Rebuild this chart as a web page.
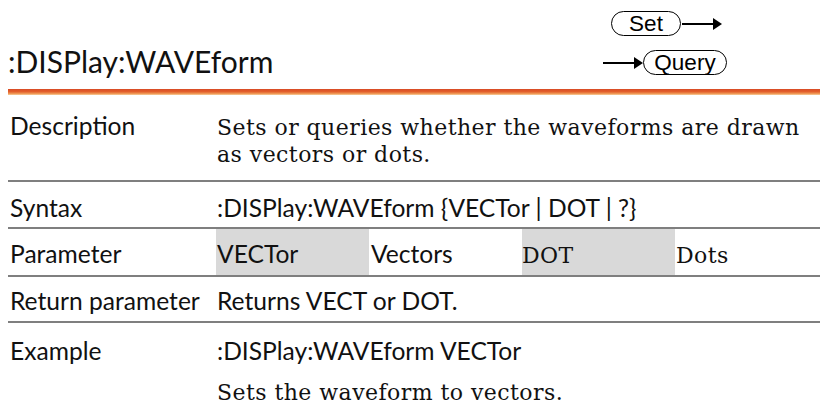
<!DOCTYPE html>
<html>
<head>
<meta charset="utf-8">
<script src="https://cdn.jsdelivr.net/npm/chart.js@4/dist/chart.umd.min.js"></script>
<style>
  html, body { margin: 0; padding: 0; background: #fff; }
  #page { position: relative; width: 820px; height: 405px; overflow: hidden; background: #fff; }
  .txt { position: absolute; white-space: nowrap; line-height: 1.2; color: #111; }
  .probe { display: inline-block; width: 0; height: 0; }
  .title { font-family: Lato, sans-serif; font-size: 30px; }
  .sans { font-family: Lato, sans-serif; font-size: 24.6px; }
  .serif { font-family: "DejaVu Serif", serif; font-size: 22px; letter-spacing: 0.45px; }
  .rule { position: absolute; left: 8px; right: 0; height: 2px; background: #7f7f7f; }
  .orange { position: absolute; left: 8px; right: 0; top: 89px; height: 6px;
    background: linear-gradient(#d84a25 0%, #e3602c 45%, #ee9453 75%, #f8cf9c 100%); }
  .cell { position: absolute; top: 229px; height: 46px; width: 153px; background: #d9d9d9; }
  .pill { position: absolute; height: 23px; border: 1.5px solid #000; border-radius: 14px;
    font-family: "Liberation Sans", Arial, sans-serif; font-size: 22.5px; line-height: 23px;
    text-align: center; color: #000; }
  .shaft { position: absolute; height: 2px; background: #000; }
  .head { position: absolute; width: 0; height: 0; border-top: 6px solid transparent;
    border-bottom: 6px solid transparent; border-left: 9px solid #000; }
</style>
</head>
<body>
<div id="page"></div>
<script>
// text content of the reference page
const titleText = ':DISPlay:WAVEform';
const badgeLabels = ['Set', 'Query'];
const rowLabels = ['Description', 'Syntax', 'Parameter', 'Return parameter', 'Example'];
const descriptionLines = ['Sets or queries whether the waveforms are drawn', 'as vectors or dots.'];
const syntaxText = ':DISPlay:WAVEform {VECTor | DOT | ?}';
const parameterCells = ['VECTor', 'Vectors', 'DOT', 'Dots'];
const returnText = 'Returns VECT or DOT.';
const exampleLines = [':DISPlay:WAVEform VECTor', 'Sets the waveform to vectors.'];

const page = document.getElementById('page');

function addBox(cls, style) {
  const el = document.createElement('div');
  el.className = cls;
  Object.assign(el.style, style);
  page.appendChild(el);
  return el;
}

// place text by its baseline
function addText(text, cls, x, baseline) {
  const el = document.createElement('div');
  el.className = 'txt ' + cls;
  el.textContent = text;
  el.style.left = x + 'px';
  page.appendChild(el);
  const probe = document.createElement('span');
  probe.className = 'probe';
  el.appendChild(probe);
  el.style.top = (baseline - probe.offsetTop) + 'px';
  el.removeChild(probe);
  return el;
}

// header
addText(titleText, 'title', 8, 73);
addBox('orange', {});

// Set / Query badges
const setPill = addBox('pill', { left: '611px', top: '11px', width: '68px' });
setPill.textContent = badgeLabels[0];
addBox('shaft', { left: '682px', top: '23px', width: '33px' });
addBox('head', { left: '713px', top: '18px' });

addBox('shaft', { left: '603px', top: '62px', width: '33px' });
addBox('head', { left: '634px', top: '57px' });
const queryPill = addBox('pill', { left: '643px', top: '50px', width: '82px' });
queryPill.textContent = badgeLabels[1];

// row separators and shaded parameter cells
[180, 227, 275, 321].forEach(y => addBox('rule', { top: y + 'px' }));
addBox('cell', { left: '216px' });
addBox('cell', { left: '522px' });

// labels
const labelBaselines = [135, 217, 263, 310, 360];
rowLabels.forEach((t, i) => addText(t, 'sans', 10, labelBaselines[i]));

// values
addText(descriptionLines[0], 'serif', 217, 135);
addText(descriptionLines[1], 'serif', 217, 162);
addText(syntaxText, 'sans', 217, 217);
const paramX = [217, 371, 522, 676];
const paramCls = ['sans', 'sans', 'serif', 'serif'];
parameterCells.forEach((t, i) => addText(t, paramCls[i], paramX[i], 263));
addText(returnText, 'sans', 217, 310);
addText(exampleLines[0], 'sans', 217, 360);
addText(exampleLines[1], 'serif', 217, 400);
</script>
</body>
</html>
